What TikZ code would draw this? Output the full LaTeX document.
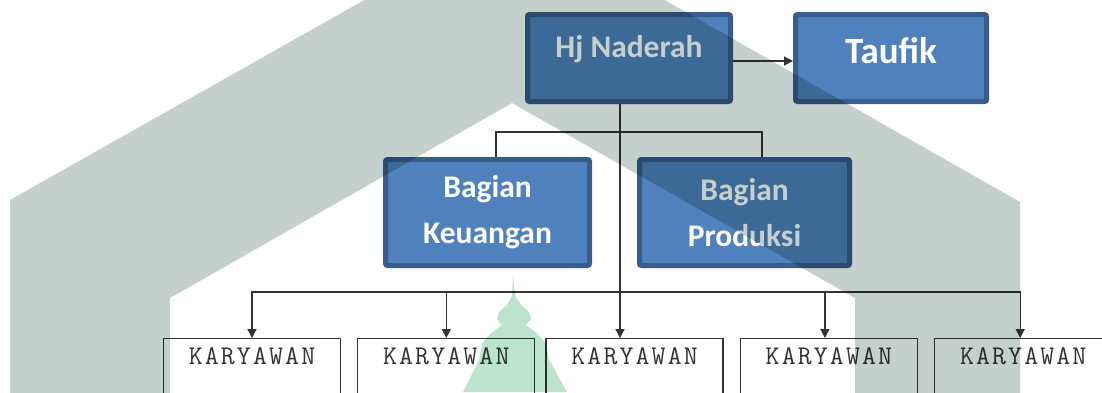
\documentclass[tikz,border=0pt]{standalone}
\usepackage{fontspec}
\setmainfont{Carlito}
\newfontfamily\stafont[LetterSpace=8]{Latin Modern Mono}
\usepackage{tikz}
\usetikzlibrary{positioning,arrows.meta,shadows}
\definecolor{biru}{HTML}{4F81BD}
\definecolor{birutua}{HTML}{385D8A}
\definecolor{abu}{HTML}{C5D0CC}
\definecolor{hijau}{HTML}{BCE3CE}
\definecolor{tinta}{HTML}{333333}

\begin{document}
\begin{tikzpicture}[x=1pt, y=-1pt, node distance=16pt and 16pt,
  kotak/.style={draw=birutua, fill=biru, line width=5pt, rounded corners=2pt, inner sep=0pt, align=center, text=white,
    font=\bfseries\fontsize{31.5}{46}\selectfont, drop shadow={opacity=0.3, shadow xshift=2pt, shadow yshift=-2pt}},
  staf/.style={draw=tinta, fill=white, line width=1.3pt, minimum width=177pt, inner xsep=0pt, inner ysep=9pt,
    text height=17pt, text depth=60pt, text=tinta, font=\stafont\fontsize{27}{27}\selectfont},
  garis/.style={draw=tinta, line width=1.3pt},
  panah/.style={garis, -{Triangle[length=9pt, width=9pt]}}]
  \fill[white] (0,0) rectangle (1102,392);
  \useasboundingbox (0,0) rectangle (1102,392);
  \clip (0,0) rectangle (1102,392);
  \node[kotak, minimum width=203pt, minimum height=87pt, text height=20pt, text depth=22pt,
    font=\bfseries\fontsize{31.5}{36}\selectfont] (naderah) at (629,58) {Hj Naderah};
  \node[kotak, minimum width=191pt, minimum height=87pt, text height=24pt, text depth=14pt,
    font=\bfseries\fontsize{37}{44}\selectfont, right=60pt of naderah] (taufik) {Taufik};
  \node[kotak, minimum width=204pt, minimum height=106pt] (keu) at (487.5,212.5) {Bagian\\Keuangan};
  \node[kotak, minimum width=210pt, minimum height=106pt, right=45pt of keu] (prod) {Bagian\\Produksi};
  \node[staf, anchor=north] (k1) at (252,338) {KARYAWAN};
  \node[staf, right=of k1] (k2) {KARYAWAN};
  \node[staf, right=10pt of k2] (k3) {KARYAWAN};
  \node[staf, right=of k3] (k4) {KARYAWAN};
  \node[staf, right=of k4] (k5) {KARYAWAN};
  \coordinate (atas) at (620,132);
  \coordinate (bus) at (620,292);
  \draw[panah] ([yshift=-3pt]naderah.east) -- ([yshift=-3pt]taufik.west);
  \draw[garis] ([xshift=8.5pt]keu.north) |- (atas) -| ([xshift=17.5pt]prod.north);
  \draw[panah] ([xshift=-9pt]naderah.south) -- ([xshift=-9pt]naderah.south |- k3.north);
  \draw[panah] (bus) -| (k1.north);
  \draw[panah] (bus) -| (k2.north);
  \draw[panah] (bus) -| ([xshift=-4pt]k4.north);
  \draw[panah] (bus) -| ([xshift=-3pt]k5.north);
  \begin{scope}[blend mode=multiply]
    \fill[abu, even odd rule] (10,400) -- (10,200) -- (515,-85) -- (1020,202) -- (1020,400) -- cycle
      (170,400) -- (170,298) -- (512,103) -- (855,298) -- (855,400) -- cycle;
    \fill[hijau] (513,275) -- (515,296) -- (521,305) -- (529,312) -- (531,319) -- (526,325) -- (538,334) -- (546,344)
      -- (549,360) -- (567,392) -- (463,392) -- (479,360) -- (482,344) -- (490,334) -- (502,325) -- (497,319)
      -- (499,312) -- (507,305) -- (512,296) -- cycle;
  \end{scope}
\end{tikzpicture}
\end{document}
